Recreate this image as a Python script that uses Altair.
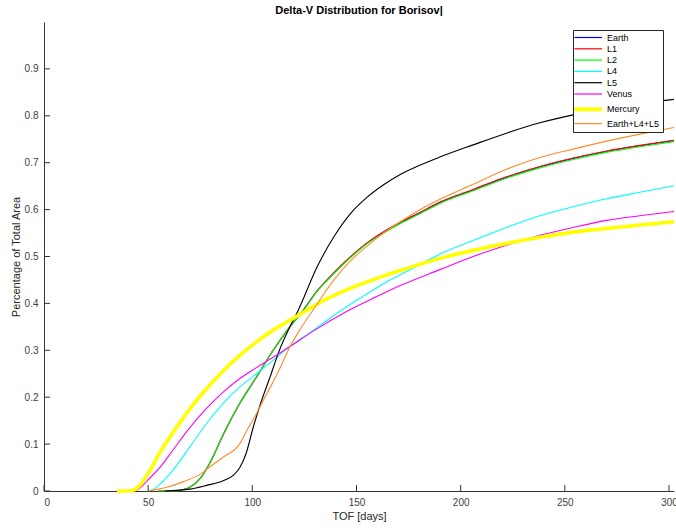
import altair as alt
import pandas as pd

# ---- data ----
series_names = ["Earth", "L1", "L2", "L4", "L5", "Venus", "Mercury", "Earth+L4+L5"]
series_colors = ["#0000ff", "#ff0000", "#00ff00", "#00ffff", "#000000", "#ff00ff", "#ffff00", "#ff8c2a"]

l2_tof = [55, 62, 66, 70, 75, 80, 86, 94, 102, 110, 118, 124.5, 131, 139, 147, 155, 163, 171, 180,
          190, 206, 222, 238, 254, 270, 286, 302.4]
l2_pct = [0, 0, 0.002, 0.008, 0.027, 0.063, 0.120, 0.187, 0.243, 0.300, 0.350, 0.385, 0.425, 0.463,
          0.497, 0.527, 0.550, 0.570, 0.590, 0.613, 0.640, 0.667, 0.689, 0.707, 0.722, 0.734, 0.745]
earth_pct = [0, 0, 0.002, 0.008, 0.027, 0.063, 0.120, 0.187, 0.243, 0.300, 0.350, 0.386, 0.426, 0.464,
             0.498, 0.528, 0.552, 0.572, 0.592, 0.615, 0.642, 0.669, 0.691, 0.709, 0.724, 0.736, 0.747]
l1_pct = [0, 0, 0.002, 0.008, 0.027, 0.063, 0.120, 0.187, 0.243, 0.300, 0.350, 0.386, 0.426, 0.465,
          0.499, 0.529, 0.553, 0.573, 0.593, 0.616, 0.643, 0.670, 0.692, 0.710, 0.725, 0.737, 0.748]

l4_tof = [50, 53, 56, 62, 70, 78, 86, 94, 102, 110, 118, 130, 141, 152, 163, 175, 190, 206, 222,
          238, 254, 270, 286, 302.4]
l4_pct = [0, 0.005, 0.016, 0.045, 0.094, 0.144, 0.187, 0.222, 0.250, 0.279, 0.308, 0.345, 0.380,
          0.412, 0.442, 0.470, 0.505, 0.534, 0.562, 0.587, 0.606, 0.623, 0.637, 0.651]

l5_tof = [58, 70, 78, 86, 91, 94, 97, 100.5, 104, 108.5, 113, 118, 122, 131, 139, 147, 155, 163,
          171, 179, 190, 206, 222, 238, 254, 270, 286, 302.4]
l5_pct = [0, 0.004, 0.012, 0.022, 0.034, 0.050, 0.080, 0.137, 0.187, 0.243, 0.300, 0.350, 0.385,
          0.477, 0.541, 0.591, 0.626, 0.653, 0.675, 0.692, 0.712, 0.738, 0.763, 0.785, 0.802, 0.815,
          0.826, 0.835]

venus_tof = [44, 47, 50, 56, 62, 70, 78, 86, 94, 102, 110, 118, 130, 145, 160, 171, 190, 206, 222,
             238, 254, 270, 286, 302.4]
venus_pct = [0, 0.010, 0.024, 0.052, 0.088, 0.135, 0.176, 0.211, 0.240, 0.263, 0.285, 0.308, 0.343,
             0.382, 0.415, 0.438, 0.472, 0.500, 0.524, 0.545, 0.562, 0.577, 0.587, 0.596]

mercury_tof = [35, 40, 43, 46, 51, 56, 62, 70, 78, 86, 94, 102, 110, 118, 126, 135, 147, 160, 171,
               190, 206, 222, 238, 254, 270, 286, 302.4]
mercury_pct = [0, 0, 0.002, 0.012, 0.045, 0.085, 0.125, 0.175, 0.218, 0.256, 0.289, 0.318, 0.343,
               0.364, 0.385, 0.408, 0.432, 0.454, 0.470, 0.496, 0.513, 0.528, 0.541, 0.552, 0.560,
               0.567, 0.574]

combo_tof = [50, 55, 59, 67, 75, 81, 86, 94, 97, 102, 107, 112, 118, 123, 129, 139, 147, 155, 163,
             171, 179, 190, 206, 222, 238, 254, 270, 286, 302.4]
combo_pct = [0, 0.004, 0.008, 0.020, 0.036, 0.056, 0.072, 0.101, 0.126, 0.165, 0.208, 0.250, 0.307,
             0.345, 0.385, 0.449, 0.490, 0.522, 0.550, 0.574, 0.596, 0.622, 0.654, 0.686, 0.711,
             0.729, 0.746, 0.761, 0.775]

x_ticks = [0, 50, 100, 150, 200, 250, 300]
y_ticks = [0, 0.1, 0.2, 0.3, 0.4, 0.5, 0.6, 0.7, 0.8, 0.9]

# ---- build long table ----
parts = [
    ("Earth", l2_tof, earth_pct),
    ("L1", l2_tof, l1_pct),
    ("L2", l2_tof, l2_pct),
    ("L4", l4_tof, l4_pct),
    ("L5", l5_tof, l5_pct),
    ("Venus", venus_tof, venus_pct),
    ("Mercury", mercury_tof, mercury_pct),
    ("Earth+L4+L5", combo_tof, combo_pct),
]
rows = []
for name, xs, ys in parts:
    for i, (a, b) in enumerate(zip(xs, ys)):
        rows.append({"series": name, "tof": a, "pct": b, "i": i})
df = pd.DataFrame(rows)

W, H = 630, 469
FONT = "Liberation Sans"
AX = "#333333"

x_scale = alt.Scale(domain=[0, 302.4], nice=False, zero=False)
y_scale = alt.Scale(domain=[0, 1], nice=False)

legend = alt.Legend(
    title=None, orient="none", legendX=529, legendY=8,
    fillColor="white", strokeColor="#262626", padding=3,
    symbolType="M-1,0L3.6,0", symbolSize=144, labelOffset=22,
    labelFont=FONT, labelFontSize=9, labelColor="#000000",
    rowPadding=1.3, symbolOpacity=1,
    symbolStrokeWidth={"expr": "datum.value === 'Mercury' ? 4 : 1.2"},
)

lines = alt.Chart(df).mark_line(interpolate="monotone", strokeCap="butt").encode(
    x=alt.X("tof:Q", scale=x_scale,
            axis=alt.Axis(values=x_ticks, title="TOF [days]", ticks=False, grid=False,
                          labelPadding=6, titlePadding=3, domainColor=AX)),
    y=alt.Y("pct:Q", scale=y_scale,
            axis=alt.Axis(values=y_ticks, title="Percentage of Total Area", ticks=False,
                          grid=False, format=".1~f", labelPadding=6, titlePadding=3,
                          domainColor=AX)),
    color=alt.Color("series:N", scale=alt.Scale(domain=series_names, range=series_colors),
                    legend=legend),
    strokeWidth=alt.condition(alt.datum.series == "Mercury", alt.value(3.6), alt.value(1.1)),
    order="i:Q",
)

xt = alt.Chart(pd.DataFrame({"t": x_ticks})).mark_rule(color=AX, strokeWidth=1).encode(
    x=alt.X("t:Q", scale=x_scale), y=alt.value(H), y2=alt.value(H - 6))
yt = alt.Chart(pd.DataFrame({"t": y_ticks})).mark_rule(color=AX, strokeWidth=1).encode(
    y=alt.Y("t:Q", scale=y_scale), x=alt.value(0), x2=alt.value(6))

chart = alt.layer(lines, xt, yt).properties(
    width=W, height=H,
    title=alt.TitleParams("Delta-V Distribution for Borisov|", font=FONT, fontSize=11,
                          fontWeight="bold", color="#000000", offset=6, anchor="middle"),
    autosize=alt.AutoSizeParams(type="none"),
    padding={"left": 44, "top": 22, "right": 2, "bottom": 38},
    background="white",
).configure_view(stroke=None).configure_axis(
    labelFont=FONT, labelFontSize=10, labelColor="#404040",
    titleFont=FONT, titleFontSize=11, titleColor="#262626", titleFontWeight="normal",
    domainWidth=1,
)

chart.save("out.html", embed_options={"renderer": "svg", "actions": False})
